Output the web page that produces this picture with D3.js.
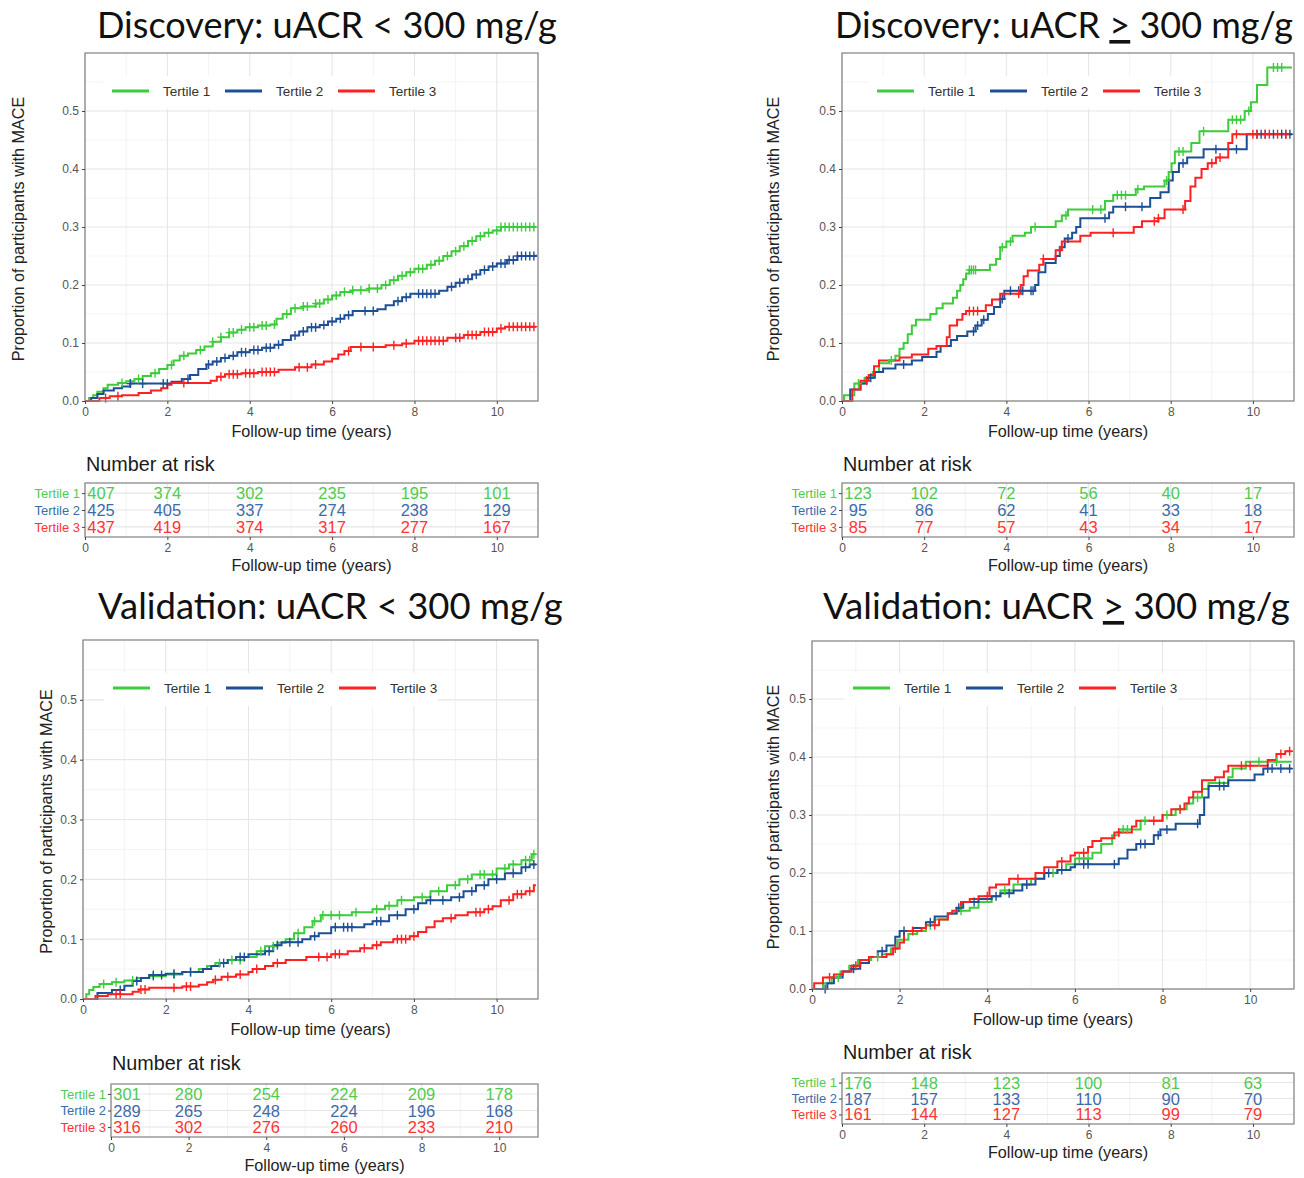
<!DOCTYPE html>
<html><head><meta charset="utf-8">
<script src="https://cdn.jsdelivr.net/npm/d3@7"></script>
<style>body{margin:0;background:#fff} svg{display:block}</style>
</head><body><svg id="c" width="1304" height="1178"></svg>
<script>
// ---------------- DATA ----------------
const seriesNames = ['Tertile 1', 'Tertile 2', 'Tertile 3'];
const xTickValues = [0, 2, 4, 6, 8, 10];
const yTickValues = [0, 0.1, 0.2, 0.3, 0.4, 0.5];
const riskTimes = [0, 2, 4, 6, 8, 10];

// Discovery: uACR < 300 mg/g  (time, cumulative proportion)
const discLtT1 = [[0,0],[0.1,0.005],[0.2,0.01],[0.3,0.016],[0.45,0.022],[0.55,0.028],[0.8,0.031],[1.0,0.034],[1.2,0.038],[1.4,0.043],[1.6,0.048],[1.8,0.055],[2.0,0.062],[2.15,0.07],[2.3,0.078],[2.5,0.082],[2.7,0.088],[2.9,0.094],[3.1,0.102],[3.3,0.11],[3.5,0.118],[3.7,0.123],[3.9,0.127],[4.2,0.13],[4.5,0.132],[4.65,0.142],[4.8,0.15],[5.0,0.16],[5.3,0.163],[5.6,0.168],[5.8,0.175],[6.0,0.182],[6.2,0.188],[6.5,0.191],[6.9,0.194],[7.2,0.2],[7.4,0.208],[7.6,0.216],[7.8,0.222],[8.0,0.228],[8.3,0.235],[8.5,0.242],[8.7,0.25],[8.9,0.258],[9.1,0.267],[9.3,0.276],[9.5,0.284],[9.7,0.29],[9.9,0.294],[10.1,0.3],[10.95,0.3]];
const discLtT2 = [[0,0],[0.15,0.005],[0.3,0.012],[0.45,0.018],[0.7,0.022],[0.9,0.025],[1.1,0.03],[2.1,0.033],[2.35,0.038],[2.55,0.045],[2.75,0.055],[2.95,0.063],[3.1,0.068],[3.3,0.074],[3.5,0.078],[3.7,0.084],[4.0,0.088],[4.3,0.092],[4.6,0.097],[4.8,0.105],[5.0,0.113],[5.2,0.12],[5.4,0.127],[5.7,0.131],[5.9,0.137],[6.1,0.142],[6.3,0.148],[6.5,0.155],[7.1,0.158],[7.3,0.165],[7.5,0.172],[7.7,0.179],[7.9,0.185],[8.6,0.19],[8.8,0.197],[9.0,0.204],[9.2,0.21],[9.4,0.218],[9.6,0.226],[9.8,0.232],[10.0,0.237],[10.25,0.243],[10.5,0.25],[10.95,0.252]];
const discLtT3 = [[0,0],[0.35,0.005],[0.6,0.008],[0.9,0.01],[1.3,0.014],[1.6,0.018],[1.85,0.022],[2.0,0.028],[2.1,0.031],[3.05,0.035],[3.2,0.042],[3.4,0.046],[3.8,0.048],[4.2,0.05],[4.7,0.054],[5.1,0.058],[5.5,0.063],[5.8,0.068],[6.0,0.073],[6.15,0.08],[6.3,0.086],[6.45,0.093],[7.3,0.096],[7.7,0.099],[8.0,0.104],[8.8,0.109],[9.2,0.114],[9.6,0.119],[10.0,0.125],[10.2,0.128],[10.95,0.128]];
const discLtCensT1 = [0.9,1.3,1.7,2.1,2.4,2.8,3.1,3.3,3.5,3.6,3.8,4.0,4.1,4.3,4.4,4.6,4.9,5.1,5.3,5.4,5.6,5.7,5.9,6.1,6.3,6.5,6.7,6.9,7.1,7.3,7.5,7.7,7.9,8.1,8.2,8.4,8.6,8.8,9.0,9.2,9.4,9.6,9.8,10.0,10.1,10.2,10.3,10.4,10.5,10.6,10.7,10.8,10.9];
const discLtCensT2 = [1.1,1.4,1.9,2.0,2.5,3.0,3.2,3.4,3.6,3.8,3.9,4.1,4.2,4.4,4.5,4.7,5.1,5.3,5.5,5.6,5.8,6.0,6.2,6.4,6.8,7.0,7.6,7.8,8.1,8.2,8.3,8.4,8.5,8.9,9.1,9.3,9.5,9.7,9.9,10.1,10.2,10.3,10.4,10.5,10.6,10.7,10.8,10.9];
const discLtCensT3 = [0.5,0.8,2.4,3.3,3.5,3.6,3.7,3.9,4.0,4.1,4.3,4.4,4.5,4.6,5.2,5.4,5.6,6.4,6.7,7.0,7.5,7.8,8.1,8.2,8.3,8.4,8.5,8.6,8.7,9.0,9.1,9.3,9.4,9.5,9.7,9.8,9.9,10.1,10.3,10.4,10.5,10.6,10.7,10.8,10.9];
const discLtRiskT1 = [407, 374, 302, 235, 195, 101];
const discLtRiskT2 = [425, 405, 337, 274, 238, 129];
const discLtRiskT3 = [437, 419, 374, 317, 277, 167];

// Discovery: uACR >= 300 mg/g
const discGeT1 = [[0,0],[0.05,0.01],[0.3,0.03],[0.55,0.04],[0.75,0.05],[0.9,0.065],[1.15,0.07],[1.3,0.078],[1.4,0.09],[1.5,0.1],[1.6,0.115],[1.7,0.13],[1.8,0.14],[2.15,0.15],[2.3,0.16],[2.45,0.168],[2.7,0.178],[2.8,0.19],[2.88,0.2],[2.95,0.21],[3.02,0.22],[3.1,0.226],[3.6,0.235],[3.75,0.245],[3.85,0.265],[4.0,0.275],[4.15,0.285],[4.45,0.29],[4.6,0.3],[5.2,0.31],[5.35,0.32],[5.5,0.33],[6.4,0.345],[6.6,0.355],[7.15,0.365],[7.35,0.37],[7.85,0.38],[7.95,0.395],[8.02,0.41],[8.1,0.43],[8.5,0.445],[8.7,0.465],[9.4,0.485],[9.8,0.5],[9.95,0.515],[10.1,0.545],[10.35,0.575],[10.95,0.575]];
const discGeT2 = [[0,0],[0.2,0.02],[0.45,0.03],[0.6,0.04],[0.8,0.05],[1.0,0.056],[1.3,0.063],[1.7,0.07],[1.95,0.076],[2.3,0.085],[2.4,0.095],[2.65,0.105],[2.8,0.112],[3.05,0.12],[3.25,0.13],[3.4,0.14],[3.55,0.15],[3.7,0.162],[3.85,0.176],[3.95,0.19],[4.7,0.2],[4.78,0.222],[4.95,0.238],[5.2,0.25],[5.3,0.265],[5.42,0.28],[5.6,0.29],[5.7,0.3],[5.8,0.315],[6.5,0.325],[6.6,0.335],[7.5,0.35],[7.75,0.36],[7.95,0.38],[8.05,0.395],[8.2,0.41],[8.4,0.42],[8.8,0.434],[9.85,0.46],[10.95,0.46]];
const discGeT3 = [[0,0],[0.25,0.02],[0.45,0.035],[0.65,0.045],[0.78,0.06],[0.9,0.07],[1.4,0.075],[1.7,0.08],[2.1,0.09],[2.3,0.095],[2.55,0.11],[2.62,0.13],[2.8,0.14],[2.93,0.15],[3.02,0.155],[3.5,0.165],[3.65,0.175],[3.85,0.185],[4.35,0.2],[4.42,0.215],[4.52,0.225],[4.8,0.235],[4.9,0.245],[5.2,0.26],[5.35,0.275],[5.8,0.285],[6.05,0.29],[7.1,0.3],[7.3,0.31],[7.7,0.315],[7.85,0.33],[8.35,0.345],[8.48,0.37],[8.6,0.385],[8.75,0.4],[8.9,0.41],[9.1,0.42],[9.4,0.445],[9.5,0.46],[10.95,0.46]];
const discGeCensT1 = [0.4,1.2,3.1,3.15,3.2,3.25,3.9,4.1,4.7,5.45,6.1,6.3,6.7,6.8,6.9,7.2,7.9,8.2,8.3,8.8,9.5,9.6,9.7,9.9,10.5,10.6,10.7];
const discGeCensT2 = [0.7,1.5,3.2,3.3,3.45,3.9,4.1,4.3,4.4,4.6,4.65,5.5,6.4,6.9,7.3,8.3,9.1,9.6,10.1,10.2,10.3,10.5,10.7,10.8,10.9];
const discGeCensT3 = [0.6,3.1,3.2,3.3,4.3,4.9,5.3,6.6,7.6,7.7,8.3,9.0,9.2,9.6,10.0,10.1,10.3,10.4,10.6,10.8];
const discGeRiskT1 = [123, 102, 72, 56, 40, 17];
const discGeRiskT2 = [95, 86, 62, 41, 33, 18];
const discGeRiskT3 = [85, 77, 57, 43, 34, 17];

// Validation: uACR < 300 mg/g
const valLtT1 = [[0,0],[0.08,0.008],[0.15,0.015],[0.25,0.02],[0.4,0.025],[0.7,0.028],[1.0,0.031],[1.3,0.035],[1.6,0.038],[2.0,0.041],[2.4,0.045],[2.8,0.05],[3.0,0.055],[3.2,0.06],[3.5,0.065],[3.9,0.07],[4.2,0.08],[4.4,0.088],[4.7,0.094],[4.9,0.1],[5.1,0.11],[5.35,0.12],[5.55,0.13],[5.75,0.14],[6.5,0.145],[7.0,0.15],[7.3,0.156],[7.6,0.165],[8.0,0.17],[8.4,0.18],[8.8,0.19],[9.1,0.2],[9.4,0.208],[10.0,0.218],[10.3,0.225],[10.6,0.232],[10.85,0.242],[10.95,0.242]];
const valLtT2 = [[0,0],[0.35,0.01],[0.7,0.015],[1.0,0.022],[1.2,0.03],[1.4,0.035],[1.6,0.04],[2.0,0.042],[2.4,0.045],[2.9,0.05],[3.1,0.055],[3.3,0.06],[3.5,0.065],[3.7,0.07],[4.0,0.075],[4.4,0.08],[4.6,0.09],[4.8,0.095],[5.3,0.1],[5.5,0.105],[5.7,0.11],[6.0,0.12],[6.8,0.125],[7.0,0.13],[7.4,0.14],[7.8,0.15],[8.1,0.16],[8.3,0.165],[8.9,0.17],[9.2,0.18],[9.5,0.19],[9.8,0.2],[10.2,0.21],[10.6,0.22],[10.8,0.225],[10.95,0.225]];
const valLtT3 = [[0,0],[0.3,0.005],[0.6,0.008],[1.2,0.012],[1.35,0.016],[1.6,0.019],[2.4,0.021],[2.8,0.024],[3.0,0.028],[3.15,0.032],[3.35,0.037],[3.7,0.041],[4.0,0.045],[4.1,0.05],[4.4,0.055],[4.6,0.06],[4.9,0.065],[5.4,0.07],[6.0,0.075],[6.4,0.08],[6.7,0.085],[7.0,0.09],[7.2,0.095],[7.5,0.1],[7.9,0.105],[8.1,0.112],[8.3,0.12],[8.5,0.13],[8.7,0.135],[9.0,0.14],[9.3,0.145],[9.7,0.15],[9.9,0.155],[10.1,0.165],[10.4,0.175],[10.7,0.18],[10.9,0.19],[10.95,0.19]];
const valLtCensT1 = [0.5,0.8,1.2,1.7,2.2,2.6,3.3,3.6,3.8,4.3,4.6,5.2,5.6,5.8,6.0,6.2,6.6,7.1,7.4,7.7,8.2,8.6,9.0,9.3,9.6,9.7,9.9,10.2,10.4,10.7,10.8,10.9];
const valLtCensT2 = [0.9,1.3,1.7,1.9,2.2,2.6,3.4,3.8,3.9,4.5,4.7,5.0,5.2,5.6,6.1,6.3,6.4,6.5,7.1,7.2,7.6,8.0,8.4,8.7,9.1,9.4,9.7,10.0,10.4,10.7,10.9];
const valLtCensT3 = [0.8,0.9,1.4,1.5,2.2,2.5,2.6,3.2,3.5,3.8,4.2,4.7,5.7,5.9,6.1,6.2,6.8,7.1,7.6,7.7,7.8,8.0,8.9,9.5,9.6,9.8,10.3,10.5,10.6,10.8];
const valLtRiskT1 = [301, 280, 254, 224, 209, 178];
const valLtRiskT2 = [289, 265, 248, 224, 196, 168];
const valLtRiskT3 = [316, 302, 276, 260, 233, 210];

// Validation: uACR >= 300 mg/g
const valGeT1 = [[0,0],[0.25,0.01],[0.45,0.02],[0.65,0.03],[0.85,0.04],[1.05,0.05],[1.35,0.055],[1.6,0.06],[1.8,0.07],[1.95,0.085],[2.2,0.095],[2.4,0.1],[2.6,0.11],[2.8,0.12],[3.1,0.13],[3.3,0.135],[3.6,0.14],[3.8,0.15],[4.1,0.16],[4.3,0.17],[4.6,0.18],[5.0,0.19],[5.3,0.2],[5.6,0.205],[5.8,0.215],[6.0,0.225],[6.4,0.235],[6.6,0.25],[6.85,0.265],[7.0,0.275],[7.5,0.29],[8.0,0.3],[8.3,0.31],[8.55,0.32],[8.7,0.33],[8.9,0.345],[9.05,0.355],[9.5,0.365],[9.6,0.38],[9.9,0.392],[10.95,0.392]];
const valGeT2 = [[0,0],[0.35,0.01],[0.5,0.02],[0.7,0.03],[0.9,0.035],[1.1,0.045],[1.3,0.055],[1.5,0.065],[1.7,0.075],[1.9,0.09],[2.0,0.1],[2.3,0.105],[2.6,0.115],[2.8,0.125],[3.1,0.13],[3.3,0.14],[3.45,0.15],[3.8,0.155],[4.1,0.16],[4.3,0.165],[4.6,0.17],[4.8,0.18],[5.1,0.19],[5.3,0.2],[5.6,0.205],[5.9,0.21],[6.0,0.215],[7.0,0.225],[7.2,0.24],[7.4,0.25],[7.8,0.265],[7.95,0.275],[8.3,0.285],[8.85,0.3],[8.95,0.33],[9.05,0.35],[9.5,0.36],[10.1,0.37],[10.3,0.38],[10.95,0.38]];
const valGeT3 = [[0,0],[0.05,0.01],[0.25,0.02],[0.5,0.025],[0.7,0.03],[0.9,0.04],[1.1,0.05],[1.3,0.055],[1.7,0.06],[1.85,0.07],[2.0,0.08],[2.1,0.1],[2.5,0.105],[2.6,0.11],[2.9,0.12],[3.1,0.13],[3.2,0.135],[3.4,0.15],[3.6,0.155],[3.8,0.16],[4.05,0.175],[4.2,0.18],[4.5,0.19],[5.1,0.2],[5.3,0.21],[5.6,0.22],[5.9,0.23],[6.0,0.235],[6.3,0.245],[6.4,0.255],[6.6,0.26],[6.9,0.27],[7.3,0.28],[7.4,0.29],[8.0,0.3],[8.2,0.31],[8.5,0.32],[8.6,0.33],[8.7,0.34],[8.9,0.36],[9.2,0.365],[9.4,0.375],[9.5,0.385],[10.4,0.395],[10.6,0.405],[10.8,0.41],[10.95,0.41]];
const valGeCensT1 = [0.6,1.5,2.7,3.4,4.4,4.9,5.5,6.1,6.2,6.3,7.1,7.2,7.6,8.1,8.4,8.8,9.3,10.2,10.6];
const valGeCensT2 = [0.3,0.95,1.6,2.1,2.7,3.35,3.7,4.2,4.5,4.9,5.4,5.7,6.2,6.3,6.9,7.5,7.6,7.9,8.1,8.8,9.3,9.4,10.4,10.5,10.7,10.9];
const valGeCensT3 = [0.4,1.0,1.9,2.3,2.8,4.0,4.7,5.7,6.2,7.0,7.8,8.4,9.8,10.0,10.7,10.9];
const valGeRiskT1 = [176, 148, 123, 100, 81, 63];
const valGeRiskT2 = [187, 157, 133, 110, 90, 70];
const valGeRiskT3 = [161, 144, 127, 113, 99, 79];

// ---------------- LAYOUT / STYLE ----------------
const lineColors = ['#3ccc3c', '#1d4f97', '#ff2121'];
const riskColors = ['#4fcb4f', '#3e6ba8', '#ff3434'];
const AX = 'Liberation Sans, Arial, sans-serif';
const TITLE_FONT = 'Lato, Carlito, Calibri, sans-serif';

const panels = [
  {title: ['Discovery: uACR ', '<', ' 300 mg/g'], underline: false, titleX: 97, titleW: 460, titleY: 38,
   plot: {x0: 85, x1: 538, y0: 53, y1: 401}, ylabX: 18, legend: {x: 112, y: 91},
   risk: {x0: 85, x1: 538, y0: 483, y1: 537}, narY: 471,
   curves: [discLtT1, discLtT2, discLtT3], cens: [discLtCensT1, discLtCensT2, discLtCensT3],
   riskN: [discLtRiskT1, discLtRiskT2, discLtRiskT3]},
  {title: ['Discovery: uACR ', '>', ' 300 mg/g'], underline: true, titleX: 835, titleW: 458, titleY: 38,
   plot: {x0: 842, x1: 1294, y0: 53, y1: 401}, ylabX: 773, legend: {x: 877, y: 91},
   risk: {x0: 842, x1: 1294, y0: 483, y1: 537}, narY: 471,
   curves: [discGeT1, discGeT2, discGeT3], cens: [discGeCensT1, discGeCensT2, discGeCensT3],
   riskN: [discGeRiskT1, discGeRiskT2, discGeRiskT3]},
  {title: ['Validation: uACR ', '<', ' 300 mg/g'], underline: false, titleX: 98, titleW: 465, titleY: 619,
   plot: {x0: 83, x1: 538, y0: 640, y1: 999}, ylabX: 46, legend: {x: 113, y: 688},
   risk: {x0: 111, x1: 538, y0: 1084, y1: 1137}, narY: 1070,
   curves: [valLtT1, valLtT2, valLtT3], cens: [valLtCensT1, valLtCensT2, valLtCensT3],
   riskN: [valLtRiskT1, valLtRiskT2, valLtRiskT3]},
  {title: ['Validation: uACR ', '>', ' 300 mg/g'], underline: true, titleX: 823, titleW: 467, titleY: 619,
   plot: {x0: 812, x1: 1294, y0: 641, y1: 989}, ylabX: 773, legend: {x: 853, y: 688},
   risk: {x0: 842, x1: 1294, y0: 1073, y1: 1124}, narY: 1059,
   curves: [valGeT1, valGeT2, valGeT3], cens: [valGeCensT1, valGeCensT2, valGeCensT3],
   riskN: [valGeRiskT1, valGeRiskT2, valGeRiskT3]}
];

const svg = d3.select('#c');
svg.append('rect').attr('width', 1304).attr('height', 1178).attr('fill', '#fff');

function stepAt(steps, t) {
  let v = 0;
  for (const [ti, vi] of steps) { if (ti <= t) v = vi; else break; }
  return v;
}

function drawPanel(p) {
  const g = svg.append('g');
  const x = d3.scaleLinear().domain([0, 11]).range([p.plot.x0, p.plot.x1]);
  const y = d3.scaleLinear().domain([0, 0.6]).range([p.plot.y1, p.plot.y0]);
  const xMinor = d3.range(1, 12, 2);
  const yMinor = d3.range(0.05, 0.6, 0.1);

  // title
  const t = g.append('text').attr('x', p.titleX).attr('y', p.titleY)
    .attr('font-family', TITLE_FONT).attr('font-size', 38).attr('fill', '#111');
  t.append('tspan').text(p.title[0]);
  const sym = t.append('tspan').text(p.title[1]);
  if (p.underline) sym.attr('text-decoration', 'underline');
  t.append('tspan').text(p.title[2]);
  const w = t.node().getComputedTextLength();
  t.attr('font-size', 38 * p.titleW / w);

  // grid
  const grid = g.append('g');
  grid.selectAll('.vmin').data(xMinor).join('line')
    .attr('x1', d => x(d)).attr('x2', d => x(d)).attr('y1', p.plot.y0).attr('y2', p.plot.y1)
    .attr('stroke', '#f2f2f2').attr('stroke-width', 0.9);
  grid.selectAll('.hmin').data(yMinor).join('line')
    .attr('y1', d => y(d)).attr('y2', d => y(d)).attr('x1', p.plot.x0).attr('x2', p.plot.x1)
    .attr('stroke', '#f2f2f2').attr('stroke-width', 0.9);
  grid.selectAll('.vmaj').data(xTickValues).join('line')
    .attr('x1', d => x(d)).attr('x2', d => x(d)).attr('y1', p.plot.y0).attr('y2', p.plot.y1)
    .attr('stroke', '#e6e6e6').attr('stroke-width', 1.1);
  grid.selectAll('.hmaj').data(yTickValues).join('line')
    .attr('y1', d => y(d)).attr('y2', d => y(d)).attr('x1', p.plot.x0).attr('x2', p.plot.x1)
    .attr('stroke', '#e6e6e6').attr('stroke-width', 1.1);

  // legend
  const lg = g.append('g');
  const step = 113;
  lg.append('rect').attr('x', p.legend.x - 9).attr('y', p.legend.y - 15)
    .attr('width', 3 * step - 5).attr('height', 33).attr('fill', '#fff');
  seriesNames.forEach((name, i) => {
    const lx = p.legend.x + i * step;
    lg.append('line').attr('x1', lx).attr('x2', lx + 37).attr('y1', p.legend.y).attr('y2', p.legend.y)
      .attr('stroke', lineColors[i]).attr('stroke-width', 2.8);
    lg.append('text').attr('x', lx + 51).attr('y', p.legend.y + 4.5).text(name)
      .attr('font-family', AX).attr('font-size', 13.5).attr('fill', '#333');
  });

  // curves
  const line = d3.line().x(d => x(d[0])).y(d => y(d[1])).curve(d3.curveStepAfter);
  p.curves.forEach((c, i) => {
    g.append('path').datum(c).attr('d', line).attr('fill', 'none')
      .attr('stroke', lineColors[i]).attr('stroke-width', 2);
  });
  p.curves.forEach((c, i) => {
    const cg = g.append('g').attr('stroke', lineColors[i]).attr('stroke-width', 1.4);
    p.cens[i].forEach(tc => {
      const cx = x(tc), cy = y(stepAt(c, tc));
      cg.append('line').attr('x1', cx).attr('x2', cx).attr('y1', cy - 4.5).attr('y2', cy + 4.5);
      cg.append('line').attr('x1', cx - 3.5).attr('x2', cx + 3.5).attr('y1', cy).attr('y2', cy);
    });
  });

  // border
  g.append('rect').attr('x', p.plot.x0).attr('y', p.plot.y0)
    .attr('width', p.plot.x1 - p.plot.x0).attr('height', p.plot.y1 - p.plot.y0)
    .attr('fill', 'none').attr('stroke', '#8a8a8a').attr('stroke-width', 1.3);

  // axes
  const xa = g.append('g').attr('transform', `translate(0,${p.plot.y1})`)
    .call(d3.axisBottom(x).tickValues(xTickValues).tickSize(3).tickPadding(3).tickFormat(d3.format('d')));
  const ya = g.append('g').attr('transform', `translate(${p.plot.x0},0)`)
    .call(d3.axisLeft(y).tickValues(yTickValues).tickSize(3).tickPadding(3).tickFormat(d3.format('.1f')));
  [xa, ya].forEach(a => {
    a.select('.domain').remove();
    a.selectAll('line').attr('stroke', '#444');
    a.selectAll('text').attr('fill', '#555').attr('font-size', 12).attr('font-family', AX);
  });

  g.append('text').attr('x', (p.plot.x0 + p.plot.x1) / 2).attr('y', p.plot.y1 + 36)
    .attr('text-anchor', 'middle').attr('font-family', AX).attr('font-size', 16.2).attr('fill', '#222')
    .text('Follow-up time (years)');
  g.append('text').attr('transform', `translate(${p.ylabX + 5.5},${(p.plot.y0 + p.plot.y1) / 2 + 2}) rotate(-90)`)
    .attr('text-anchor', 'middle').attr('font-family', AX).attr('font-size', 16.2).attr('fill', '#222')
    .text('Proportion of participants with MACE');

  // ------- risk table -------
  const r = p.risk;
  const rx = d3.scaleLinear().domain([0, 11]).range([r.x0, r.x1]);
  const ry = d3.scalePoint().domain(seriesNames).range([r.y0, r.y1]).padding(0.6);
  g.append('text').attr('x', r.x0 + 1).attr('y', p.narY).text('Number at risk')
    .attr('font-family', AX).attr('font-size', 19.8).attr('fill', '#1a1a1a');
  const rg = g.append('g');
  rg.selectAll('.rvmin').data(xMinor).join('line')
    .attr('x1', d => rx(d)).attr('x2', d => rx(d)).attr('y1', r.y0).attr('y2', r.y1)
    .attr('stroke', '#f2f2f2').attr('stroke-width', 0.9);
  rg.selectAll('.rvmaj').data(xTickValues).join('line')
    .attr('x1', d => rx(d)).attr('x2', d => rx(d)).attr('y1', r.y0).attr('y2', r.y1)
    .attr('stroke', '#e6e6e6').attr('stroke-width', 1.1);
  rg.selectAll('.rh').data(seriesNames).join('line')
    .attr('y1', d => ry(d)).attr('y2', d => ry(d)).attr('x1', r.x0).attr('x2', r.x1)
    .attr('stroke', '#e6e6e6').attr('stroke-width', 1.1);
  seriesNames.forEach((name, i) => {
    p.riskN[i].forEach((n, j) => {
      const tx = j === 0 ? rx(riskTimes[j]) + 16 : rx(riskTimes[j]);
      rg.append('text').attr('x', tx).attr('y', ry(name) + 6).attr('text-anchor', 'middle')
        .attr('font-family', AX).attr('font-size', 16.5).attr('fill', riskColors[i]).text(n);
    });
  });
  rg.append('rect').attr('x', r.x0).attr('y', r.y0).attr('width', r.x1 - r.x0).attr('height', r.y1 - r.y0)
    .attr('fill', 'none').attr('stroke', '#8a8a8a').attr('stroke-width', 1.3);
  const rya = g.append('g').attr('transform', `translate(${r.x0},0)`)
    .call(d3.axisLeft(ry).tickSize(3).tickPadding(2));
  rya.select('.domain').remove();
  rya.selectAll('line').attr('stroke', '#444');
  rya.selectAll('text').attr('font-family', AX).attr('font-size', 13)
    .attr('fill', (d, i) => riskColors[i]);
  const rxa = g.append('g').attr('transform', `translate(0,${r.y1})`)
    .call(d3.axisBottom(rx).tickValues(xTickValues).tickSize(3).tickPadding(3).tickFormat(d3.format('d')));
  rxa.select('.domain').remove();
  rxa.selectAll('line').attr('stroke', '#444');
  rxa.selectAll('text').attr('fill', '#555').attr('font-size', 12).attr('font-family', AX);
  g.append('text').attr('x', (r.x0 + r.x1) / 2).attr('y', r.y1 + 34)
    .attr('text-anchor', 'middle').attr('font-family', AX).attr('font-size', 16.2).attr('fill', '#222')
    .text('Follow-up time (years)');
}

panels.forEach(drawPanel);
</script></body></html>
